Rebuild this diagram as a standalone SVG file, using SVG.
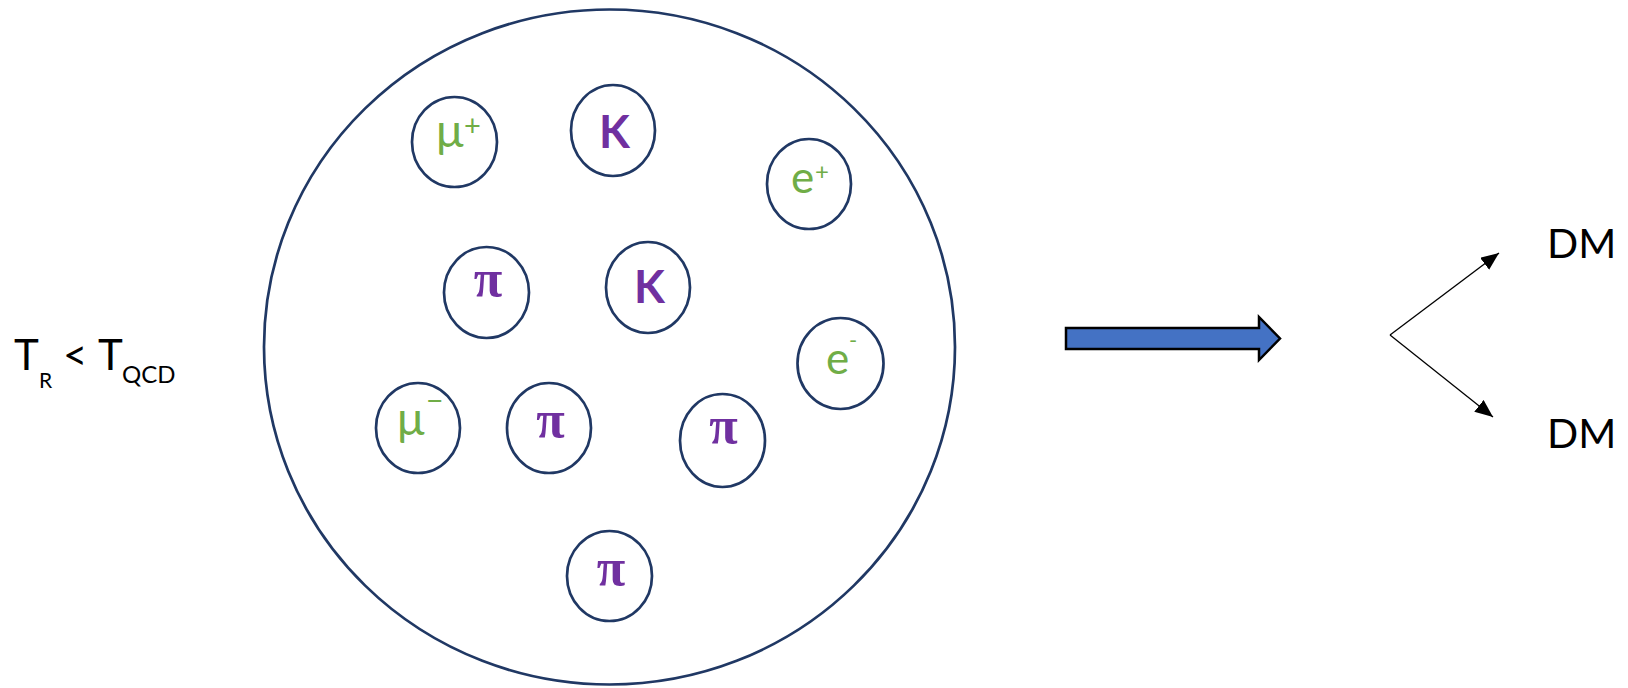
<svg xmlns="http://www.w3.org/2000/svg" width="1628" height="688" viewBox="0 0 1628 688">
  <style>
    .ring { fill: #ffffff; stroke: #203864; stroke-width: 2.7; }
    .lep { fill: #70AD47; font-family: Lato, "Open Sans", sans-serif; }
    .kaon { fill: #7030A0; font-family: Lato, "Open Sans", sans-serif; font-weight: bold; font-size: 45px; text-anchor: middle; }
    .pion { fill: #7030A0; font-family: "Liberation Serif", "DejaVu Serif", serif; font-weight: bold; font-size: 52px; text-anchor: middle; }
    .lbl { fill: #000000; font-family: Lato, "Open Sans", sans-serif; }
    .ray { stroke: #000000; stroke-width: 1.3; fill: none; }
  </style>
  <defs>
    <marker id="head" markerUnits="userSpaceOnUse" markerWidth="19" markerHeight="15" refX="18" refY="7.5" orient="auto">
      <path d="M0,0 L18,7.5 L0,15 z" fill="#000000"/>
    </marker>
  </defs>

  <rect width="1628" height="688" fill="#ffffff"/>

  <!-- temperature condition -->
  <g id="condition" class="lbl">
    <text x="14" y="370" font-size="42">T</text>
    <text x="39" y="388" font-size="21">R</text>
    <text x="63" y="370" font-size="42">&lt;</text>
    <text x="98" y="370" font-size="42">T</text>
    <text x="122" y="383" font-size="24">QCD</text>
  </g>

  <!-- plasma volume -->
  <g id="plasma">
    <ellipse cx="609.5" cy="347" rx="345.5" ry="337.5" class="ring"/>
  </g>

  <g id="mu-plus">
    <ellipse cx="454.5" cy="142" rx="42.5" ry="45" class="ring"/>
    <text class="lep" x="436" y="147" font-size="46">μ</text>
    <text class="lep" x="464" y="136" font-size="29">+</text>
  </g>

  <g id="kaon-1">
    <ellipse cx="613" cy="130.5" rx="42" ry="45.5" class="ring"/>
    <text class="kaon" x="614.5" y="148">K</text>
  </g>

  <g id="e-plus">
    <ellipse cx="809" cy="184" rx="42" ry="45" class="ring"/>
    <text class="lep" x="791" y="193" font-size="44">e</text>
    <text class="lep" x="815" y="180" font-size="24">+</text>
  </g>

  <g id="pion-1">
    <ellipse cx="486.5" cy="292.5" rx="42.5" ry="45.5" class="ring"/>
    <text class="pion" x="488" y="296">π</text>
  </g>

  <g id="kaon-2">
    <ellipse cx="648" cy="287.5" rx="42" ry="45.5" class="ring"/>
    <text class="kaon" x="649.5" y="303">K</text>
  </g>

  <g id="e-minus">
    <ellipse cx="840.5" cy="363.5" rx="43" ry="45.5" class="ring"/>
    <text class="lep" x="826" y="374" font-size="44">e</text>
    <text class="lep" x="849" y="348" font-size="22">-</text>
  </g>

  <g id="mu-minus">
    <ellipse cx="418" cy="428" rx="42" ry="45" class="ring"/>
    <text class="lep" x="397" y="435" font-size="46">μ</text>
    <text class="lep" x="426" y="411" font-size="30">−</text>
  </g>

  <g id="pion-2">
    <ellipse cx="549" cy="428" rx="42" ry="45" class="ring"/>
    <text class="pion" x="550.5" y="437">π</text>
  </g>

  <g id="pion-3">
    <ellipse cx="722.5" cy="440.5" rx="42.5" ry="46.5" class="ring"/>
    <text class="pion" x="723.5" y="443">π</text>
  </g>

  <g id="pion-4">
    <ellipse cx="609.5" cy="576" rx="42.5" ry="45" class="ring"/>
    <text class="pion" x="611" y="585">π</text>
  </g>

  <!-- transition arrow and decay products -->
  <g id="connectors">
    <polygon points="1066,328 1259,328 1259,317 1280,338.5 1259,360 1259,349 1066,349" fill="#4472C4" stroke="#000000" stroke-width="2.5" stroke-linejoin="miter"/>
    <line class="ray" x1="1390" y1="335" x2="1499" y2="253" marker-end="url(#head)"/>
    <line class="ray" x1="1390" y1="335" x2="1493" y2="417" marker-end="url(#head)"/>
  </g>

  <g id="dm-top" class="lbl">
    <text x="1547" y="258" font-size="41">DM</text>
  </g>
  <g id="dm-bottom" class="lbl">
    <text x="1547" y="448" font-size="41">DM</text>
  </g>
</svg>
